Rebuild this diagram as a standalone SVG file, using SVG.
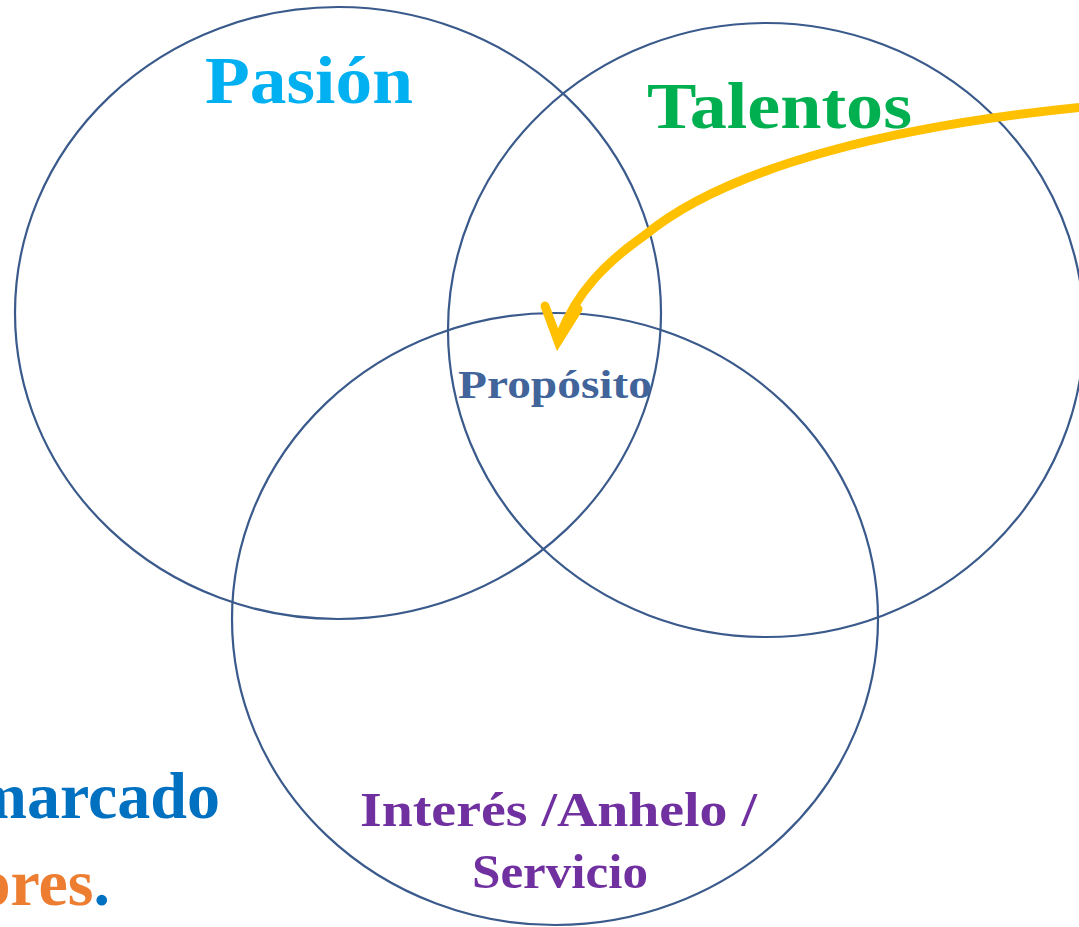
<svg xmlns="http://www.w3.org/2000/svg" width="1079" height="927" viewBox="0 0 1079 927">
<style>
.c{fill:none;stroke:#3A5A8C;stroke-width:2.2}
.t{font-family:"Liberation Serif","Times New Roman",serif;font-weight:bold}
</style>
<rect width="1079" height="927" fill="#fff"/>
<g id="pasion"><ellipse class="c" cx="338" cy="313" rx="323" ry="306"/>
<text class="t" x="205" y="103" font-size="68" fill="#00B0F0" textLength="208" lengthAdjust="spacingAndGlyphs">Pasión</text></g>
<g id="talentos"><ellipse class="c" cx="766" cy="330" rx="318" ry="307"/>
<text class="t" x="647" y="128" font-size="66" fill="#00B050" textLength="265" lengthAdjust="spacingAndGlyphs">Talentos</text></g>
<g id="interes"><ellipse class="c" cx="555" cy="619" rx="323" ry="306"/>
<text class="t" x="360" y="826" font-size="48" fill="#7030A0" textLength="397" lengthAdjust="spacingAndGlyphs">Interés /Anhelo /</text>
<text class="t" x="472" y="888" font-size="48" fill="#7030A0" textLength="176" lengthAdjust="spacingAndGlyphs">Servicio</text></g>
<g id="proposito"><text class="t" x="458" y="398" font-size="40" fill="#41649A" textLength="194" lengthAdjust="spacingAndGlyphs">Propósito</text></g>
<g id="side-text">
<text class="t" x="220" y="818" font-size="66" fill="#0070C0" text-anchor="end">marcado</text>
<text class="t" x="110" y="905" font-size="66" text-anchor="end"><tspan fill="#ED7D31">ores</tspan><tspan fill="#0070C0">.</tspan></text>
</g>
<g id="connectors">
<path d="M1085,107 C900,125 730,165 645,235 C605,263 577,292 560,335" fill="none" stroke="#FFC000" stroke-width="9"/>
<polyline points="545,306 558,341 578,309" fill="none" stroke="#FFC000" stroke-width="9" stroke-linecap="round" stroke-linejoin="miter"/>
</g>
</svg>
